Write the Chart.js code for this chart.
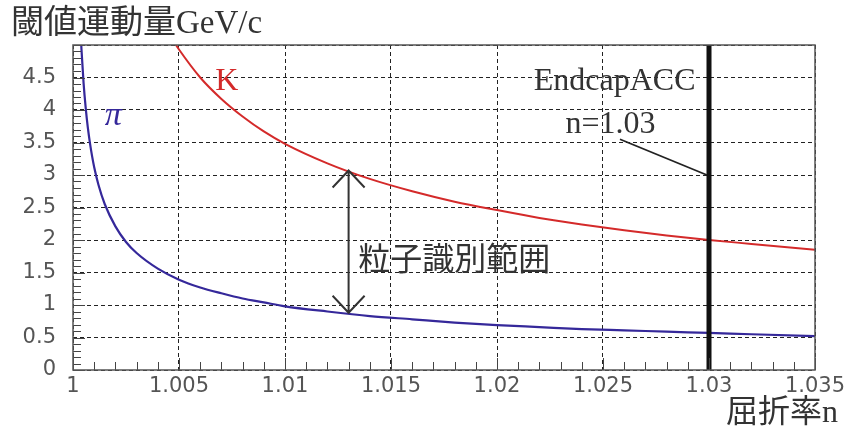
<!DOCTYPE html>
<html>
<head>
<meta charset="utf-8">
<script src="https://cdn.jsdelivr.net/npm/chart.js@4.4.1/dist/chart.umd.min.js"></script>
<style>
  html, body { margin: 0; padding: 0; background: #fff; }
  #wrap { width: 854px; height: 432px; }
</style>
</head>
<body>
<div id="wrap"><canvas id="thresholdChart" width="854" height="432"></canvas></div>
<script>
// Refractive index values and threshold momenta (GeV/c)
const pionN = [1.00038, 1.0004, 1.0005, 1.0006, 1.0007, 1.0008, 1.0009, 1.001, 1.0012, 1.0015, 1.002, 1.0025, 1.003, 1.004, 1.005, 1.006, 1.007, 1.008, 1.009, 1.010, 1.012, 1.014, 1.016, 1.018, 1.020, 1.022, 1.024, 1.026, 1.028, 1.030, 1.032, 1.035];
const pionP = [5.06, 4.93, 4.41, 4.03, 3.73, 3.49, 3.29, 3.12, 2.85, 2.55, 2.21, 1.97, 1.80, 1.56, 1.39, 1.27, 1.18, 1.10, 1.04, 0.98, 0.90, 0.83, 0.78, 0.73, 0.69, 0.66, 0.63, 0.61, 0.59, 0.57, 0.55, 0.52];

const kaonN = [1.0048, 1.005, 1.006, 1.007, 1.008, 1.009, 1.010, 1.012, 1.014, 1.016, 1.018, 1.020, 1.022, 1.024, 1.026, 1.028, 1.030, 1.032, 1.035];
const kaonP = [5.03, 4.93, 4.50, 4.17, 3.90, 3.67, 3.48, 3.18, 2.94, 2.75, 2.59, 2.46, 2.34, 2.24, 2.15, 2.07, 2.00, 1.94, 1.85];

// Endcap ACC refractive index
const endcapN = 1.03;

// Axis ticks
const xTicks = [1, 1.005, 1.01, 1.015, 1.02, 1.025, 1.03, 1.035];
const xTickLabels = ['1', '1.005', '1.01', '1.015', '1.02', '1.025', '1.03', '1.035'];
const yTicks = [0, 0.5, 1, 1.5, 2, 2.5, 3, 3.5, 4, 4.5, 5];
const yTickLabels = ['0', '0.5', '1', '1.5', '2', '2.5', '3', '3.5', '4', '4.5', ''];

// Particle identification range arrow (n, p from K down to pi)
const arrowN = 1.013;
const arrowTop = 3.07;
const arrowBottom = 0.88;

const toPoints = (xs, ys) => xs.map((x, i) => ({ x: x, y: ys[i] }));

const serifCJK = "'Liberation Serif', 'Noto Sans CJK JP', serif";

// Draws frame, minor ticks and the text annotations
const decorations = {
    id: 'decorations',
    afterDatasetsDraw(chart) {
        const ctx = chart.ctx;
        const area = chart.chartArea;
        const xs = chart.scales.x;
        const ys = chart.scales.y;
        ctx.save();

        // minor ticks along bottom
        ctx.strokeStyle = '#444';
        ctx.lineWidth = 1;
        for (let i = 0; i <= 35; i++) {
            const px = Math.round(xs.getPixelForValue(1 + i * 0.001)) + 0.5;
            const len = (i % 5 === 0) ? 12 : 8;
            ctx.beginPath();
            ctx.moveTo(px, area.bottom);
            ctx.lineTo(px, area.bottom - len);
            ctx.stroke();
        }
        // minor ticks along left
        for (let i = 0; i <= 50; i++) {
            const py = Math.round(ys.getPixelForValue(i * 0.1)) + 0.5;
            const len = (i % 5 === 0) ? 12 : 8;
            ctx.beginPath();
            ctx.moveTo(area.left, py);
            ctx.lineTo(area.left + len, py);
            ctx.stroke();
        }

        // frame
        ctx.strokeStyle = '#555';
        ctx.lineWidth = 1.5;
        ctx.strokeRect(area.left, area.top, area.right - area.left, area.bottom - area.top);

        // arrow
        const ax = xs.getPixelForValue(arrowN);
        const at = ys.getPixelForValue(arrowTop);
        const ab = ys.getPixelForValue(arrowBottom);
        ctx.strokeStyle = '#333';
        ctx.lineWidth = 2;
        ctx.beginPath();
        ctx.moveTo(ax, at);
        ctx.lineTo(ax, ab);
        ctx.moveTo(ax - 16, at + 17);
        ctx.lineTo(ax, at);
        ctx.lineTo(ax + 16, at + 17);
        ctx.moveTo(ax - 16, ab - 17);
        ctx.lineTo(ax, ab);
        ctx.lineTo(ax + 16, ab - 17);
        ctx.stroke();

        // leader line to n=1.03
        ctx.strokeStyle = '#222';
        ctx.lineWidth = 1.8;
        ctx.beginPath();
        ctx.moveTo(xs.getPixelForValue(1.0258), ys.getPixelForValue(3.55));
        ctx.lineTo(xs.getPixelForValue(1.0299), ys.getPixelForValue(3.0));
        ctx.stroke();

        // texts
        ctx.textBaseline = 'middle';
        ctx.textAlign = 'center';
        ctx.fillStyle = '#333';
        ctx.font = '32px ' + serifCJK;
        ctx.fillText('EndcapACC', xs.getPixelForValue(1.02555), ys.getPixelForValue(4.44));
        ctx.fillText('n=1.03', xs.getPixelForValue(1.02535), ys.getPixelForValue(3.78));

        ctx.fillStyle = '#d42a2a';
        ctx.fillText('K', xs.getPixelForValue(1.00725), ys.getPixelForValue(4.44));

        ctx.fillStyle = '#35289a';
        ctx.font = "italic 34px 'Liberation Serif', serif";
        ctx.fillText('π', xs.getPixelForValue(1.0019), ys.getPixelForValue(3.9));

        ctx.fillStyle = '#333';
        ctx.textAlign = 'left';
        ctx.font = "32px 'Noto Sans CJK JP', sans-serif";
        ctx.fillText('粒子識別範囲', xs.getPixelForValue(1.01345), ys.getPixelForValue(1.72));

        // axis titles
        ctx.font = '33px ' + serifCJK;
        ctx.fillStyle = '#333';
        ctx.fillText('閾値運動量GeV/c', 11, 24);
        ctx.textAlign = 'right';
        ctx.font = '32px ' + serifCJK;
        ctx.fillText('屈折率n', 838, 414);

        ctx.restore();
    }
};

const ctx = document.getElementById('thresholdChart').getContext('2d');

const chart = new Chart(ctx, {
    type: 'line',
    data: {
        datasets: [
            {
                label: 'EndcapACC',
                data: [{ x: endcapN, y: 0 }, { x: endcapN, y: 5 }],
                borderColor: '#111',
                borderWidth: 5,
                pointRadius: 0
            },
            {
                label: 'K',
                data: toPoints(kaonN, kaonP),
                borderColor: '#d42a2a',
                borderWidth: 2,
                pointRadius: 0,
                cubicInterpolationMode: 'monotone'
            },
            {
                label: 'π',
                data: toPoints(pionN, pionP),
                borderColor: '#35289a',
                borderWidth: 2.2,
                pointRadius: 0,
                cubicInterpolationMode: 'monotone'
            }
        ]
    },
    options: {
        responsive: false,
        animation: false,
        layout: { padding: { top: 45, right: 39, left: 0, bottom: 0 } },
        plugins: {
            legend: { display: false },
            tooltip: { enabled: false }
        },
        scales: {
            x: {
                type: 'linear',
                min: 1,
                max: 1.035,
                afterBuildTicks: scale => { scale.ticks = xTicks.map(v => ({ value: v })); },
                afterFit: scale => { scale.height = 62; },
                ticks: {
                    callback: (value, i) => xTickLabels[i],
                    font: { family: 'DejaVu Sans', size: 21 },
                    color: '#555',
                    padding: 4,
                    maxRotation: 0,
                    autoSkip: false
                },
                grid: { color: '#222', lineWidth: 1, drawTicks: false },
                border: { display: false, dash: [4, 3] }
            },
            y: {
                type: 'linear',
                min: 0,
                max: 5,
                afterBuildTicks: scale => { scale.ticks = yTicks.map(v => ({ value: v })); },
                afterFit: scale => { scale.width = 73; },
                ticks: {
                    callback: (value, i) => yTickLabels[i],
                    font: { family: 'DejaVu Sans', size: 21 },
                    color: '#555',
                    padding: 17,
                    autoSkip: false
                },
                grid: { color: '#222', lineWidth: 1, drawTicks: false },
                border: { display: false, dash: [4, 3] }
            }
        }
    },
    plugins: [decorations]
});
</script>
</body>
</html>
